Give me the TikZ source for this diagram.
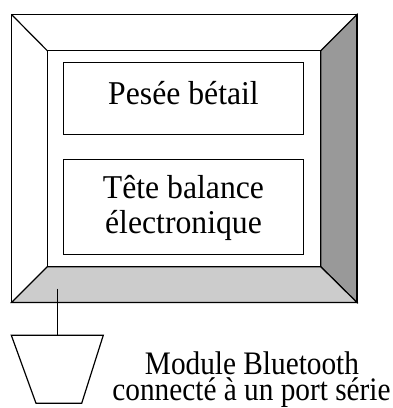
\documentclass[tikz,border=0pt]{standalone}
\usepackage{fontspec}
\setmainfont{Liberation Serif}
\begin{document}
\begin{tikzpicture}[x=1pt,y=-1pt,line width=1.2pt,line join=miter,
  boxtext/.style={font=\fontsize{31.7}{35}\selectfont,anchor=base,inner sep=0pt},
  captext/.style={font=\fontsize{29.3}{26}\selectfont,anchor=base,inner sep=0pt},
  panel/.style={draw,rectangle,inner sep=0pt}]
\useasboundingbox (0,0) rectangle (393,408);
% frame corners
\coordinate (otl) at (11.5,14.5);
\coordinate (otr) at (357,14.5);
\coordinate (obr) at (357,302.5);
\coordinate (obl) at (11.5,302.5);
\coordinate (itl) at (47.3,50.7);
\coordinate (itr) at (320.7,50.7);
\coordinate (ibr) at (320.7,266.7);
\coordinate (ibl) at (47.3,266.7);
% shaded bevels
\draw[fill={rgb,255:red,153;green,153;blue,153}] (itr) -- (otr) -- (obr) -- (ibr) -- cycle;
\draw[fill={rgb,255:red,204;green,204;blue,204}] (obl) -- (ibl) -- (ibr) -- (obr) -- cycle;
\draw (otl) rectangle (obr);
\draw (itl) rectangle (ibr);
\draw (otl) -- (itl);
% panels
\node[panel,minimum width=240.4pt,minimum height=72pt] (pesee) at (183.5,98.7) {};
\node[panel,minimum width=240.4pt,minimum height=95.4pt] (tete) at (183.5,207) {};
\node[boxtext] (t1) at (183.5,104.3) {\scalebox{1}[1.05]{Pesée bétail}};
\node[boxtext] (t2) at (183.5,198.5) {\scalebox{1}[1.05]{Tête balance}};
\node[boxtext] (t3) at (183.5,233.3) {\scalebox{1}[1.05]{électronique}};
% bluetooth module
\coordinate (port) at (57.3,288.7);
\coordinate (modtop) at (57.3,335.2);
\draw (11.3,335.2) -- (103.3,335.2) -- (81.7,403.3) -- (36,403.3) -- cycle;
\draw (port) -- (modtop);
\node[captext] (m1) at (252,374.5) {\scalebox{1}[1.12]{Module Bluetooth}};
\node[captext] (m2) at (251.5,400.5) {\scalebox{1}[1.12]{connecté à un port série}};
\end{tikzpicture}
\end{document}
